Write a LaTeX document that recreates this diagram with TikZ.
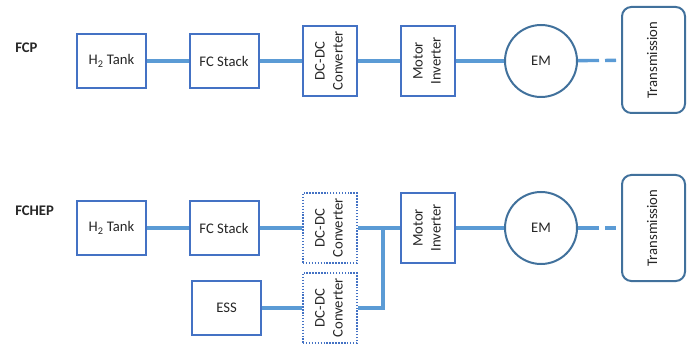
\documentclass[tikz,border=0pt]{standalone}
\usepackage{fontspec}
\setmainfont{Carlito}
\usepackage{graphicx}
\definecolor{boxblue}{HTML}{4472C4}
\definecolor{linkblue}{HTML}{5B9BD5}
\definecolor{darkblue}{HTML}{41719C}
\newcommand{\vtext}[1]{\rotatebox{90}{\begin{tabular}{@{}c@{}}#1\end{tabular}}}
\begin{document}
\begin{tikzpicture}[
    x=0.75pt, y=-0.75pt,
    every node/.style={font=\fontsize{11}{13.4}\selectfont, text=black!85, inner sep=0pt},
    lbl/.style={font=\fontsize{11}{13.4}\selectfont\bfseries, anchor=west},
    blk/.style={draw=boxblue, line width=1.5pt, minimum width=51.75pt, minimum height=40.5pt},
    vblk/.style={draw=boxblue, line width=1.5pt, minimum width=40.5pt, minimum height=52.5pt},
    dotblk/.style={vblk, line width=1.3pt, dash pattern=on 1.1pt off 1.1pt},
    em/.style={circle, draw=darkblue, line width=1.5pt, minimum size=54pt},
    trans/.style={draw=darkblue, line width=1.5pt, rounded corners=7pt,
        minimum width=47.25pt, minimum height=79.5pt},
    link/.style={draw=linkblue, line width=2.5pt},
    shaft/.style={link, dash pattern=on 15.75pt off 4.5pt on 8.25pt off 4pt on 10pt}
]
  \useasboundingbox (0,0) rectangle (691,345);

  % FCP
  \node[lbl]    (fcp)   at (15,48)     {FCP};
  \node[blk]    (tank1) at (111.5,61)  {H\textsubscript{2} Tank};
  \node[blk]    (fc1)   at (224,61)    {FC Stack};
  \node[vblk]   (dc1)   at (330,61)    {\vtext{DC-DC\\Converter}};
  \node[vblk]   (inv1)  at (428,61)    {\vtext{Motor\\Inverter}};
  \node[em]     (em1)   at (541,61)    {EM};
  \node[trans]  (tr1)   at (653.5,60)  {\vtext{Transmission}};

  \draw[link]  (tank1) -- (fc1) -- (dc1) -- (inv1) -- (em1);
  \draw[shaft] (em1) -- (tr1);

  % FCHEP
  \node[lbl]    (fchep) at (15,211)    {FCHEP};
  \node[blk]    (tank2) at (111.5,228) {H\textsubscript{2} Tank};
  \node[blk]    (fc2)   at (224,228)   {FC Stack};
  \node[dotblk] (dc2)   at (330,228)   {\vtext{DC-DC\\Converter}};
  \node[blk]    (ess)   at (226.5,308) {ESS};
  \node[dotblk] (dc3)   at (330,308)   {\vtext{DC-DC\\Converter}};
  \node[vblk]   (inv2)  at (428,228)   {\vtext{Motor\\Inverter}};
  \node[em]     (em2)   at (541,228)   {EM};
  \node[trans]  (tr2)   at (653.5,228) {\vtext{Transmission}};
  \coordinate   (bus)   at (383,228);

  \draw[link]  (tank2) -- (fc2) -- (dc2) -- (inv2) -- (em2);
  \draw[link]  (ess) -- (dc3);
  \draw[link]  (dc3.east) -| (bus);
  \draw[shaft] (em2) -- (tr2);
\end{tikzpicture}
\end{document}
